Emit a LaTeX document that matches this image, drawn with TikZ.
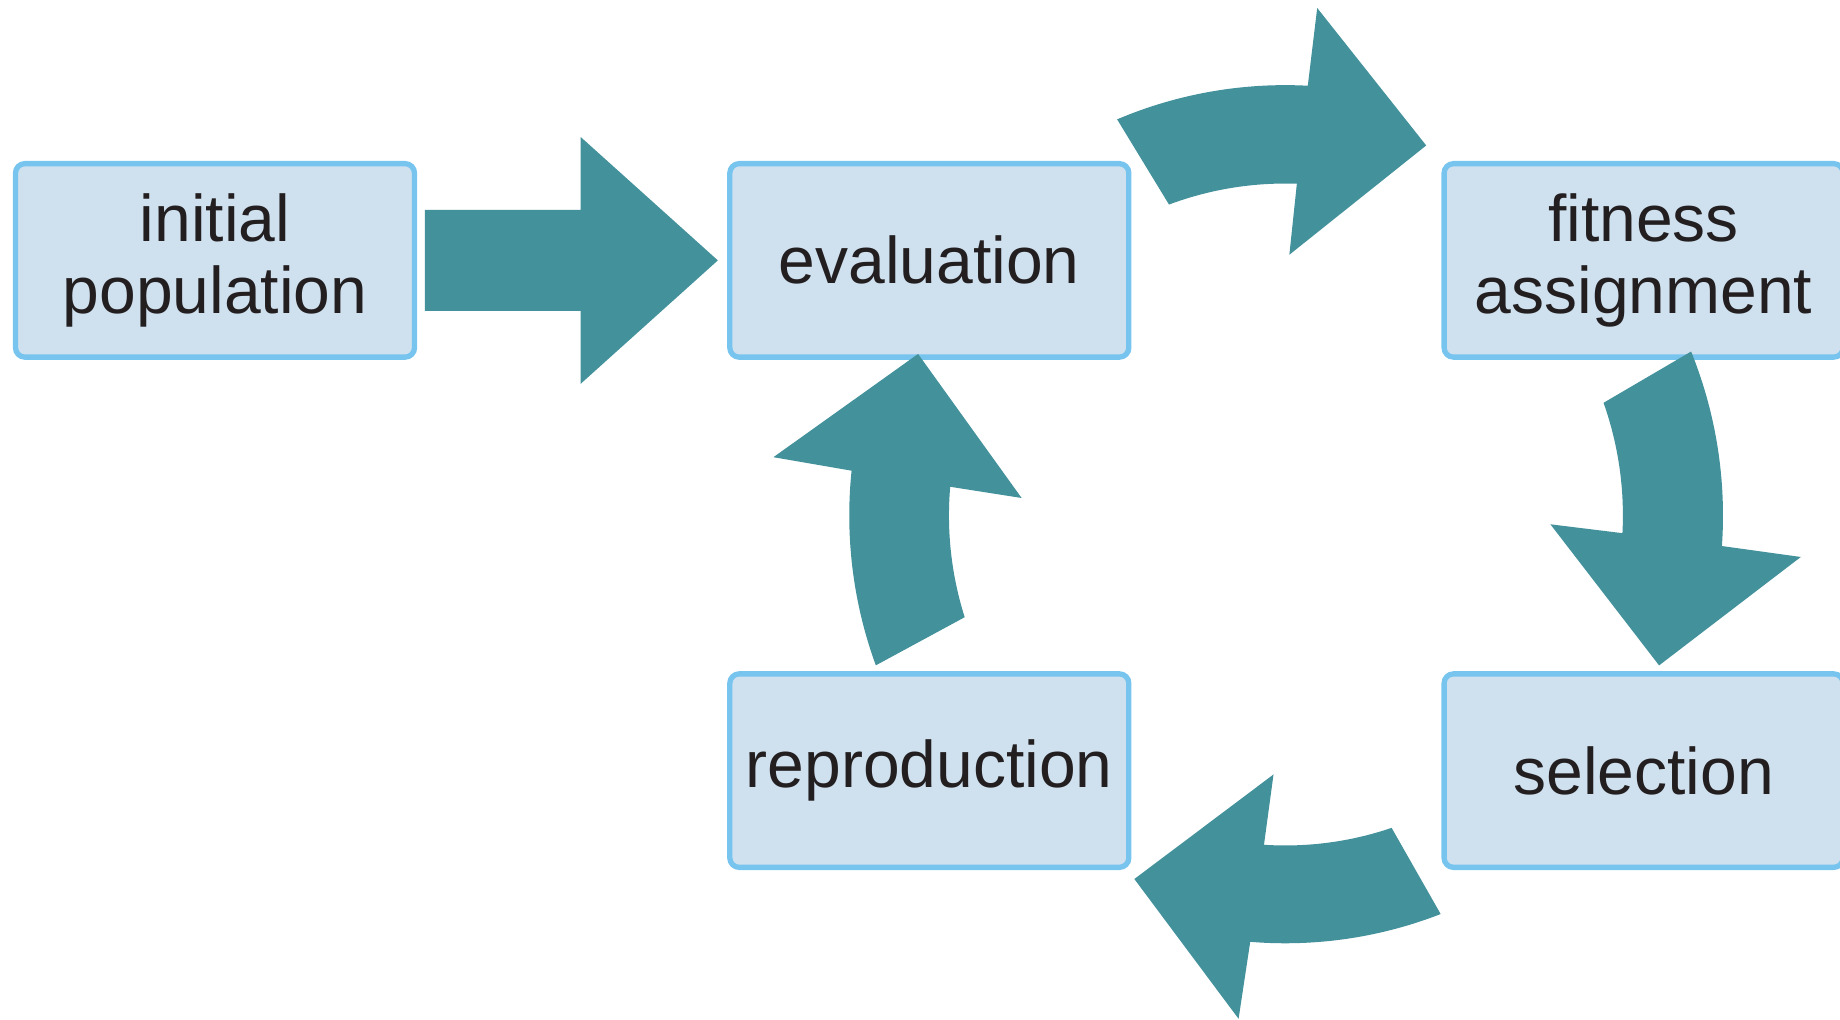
\documentclass[tikz,border=0pt]{standalone}
\usepackage{fontspec}
\setmainfont{Liberation Sans}
\usetikzlibrary{positioning,calc}
\definecolor{boxfill}{HTML}{CFE0EF}
\definecolor{boxline}{HTML}{77C4EE}
\definecolor{arrowfill}{HTML}{43919B}
\definecolor{textcol}{HTML}{231F20}

\begin{document}
\begin{tikzpicture}[
			box/.style={draw=boxline,fill=boxfill,line width=2.65pt,rounded corners=4.7pt,
				minimum width=199.5pt,minimum height=96.75pt,inner sep=0pt,align=center,
				text=textcol,font=\fontsize{33}{36}\selectfont},
			bigarrow/.style={fill=arrowfill}]
			\useasboundingbox (0,0) rectangle (920pt,509.5pt);
			\node (init) [box] at (107.5pt,379.3pt) {initial\\population};
			\node (eval) [box,right=155pt of init] {evaluation};
			\node (fit) [box,right=155pt of eval] {fitness\\assignment};
			\node (sel) [box,below=155.7pt of fit] {selection};
			\node (repr) [box,below=155.7pt of eval] {reproduction};
			\coordinate (cyc) at ($(eval)!.5!(sel)+(-0.6pt,0)$);
			\fill[bigarrow] ([shift={(3.85pt,25.25pt)}]init.east)
				-- ([shift={(81.7pt,25.25pt)}]init.east)
				-- ([shift={(81.7pt,61.75pt)}]init.east)
				-- ([xshift=-4.65pt]eval.west)
				-- ([shift={(81.7pt,-61.75pt)}]init.east)
				-- ([shift={(81.7pt,-25.25pt)}]init.east)
				-- ([shift={(3.85pt,-25.25pt)}]init.east) -- cycle;
			\foreach \a/\s in {1.4/0.994,-89.6/1.011,-180.3/0.988,-271.5/1.007}
				\fill[bigarrow,shift={(cyc)},rotate=\a,scale=\s] (111.6:216.5pt)
					arc[start angle=111.6,end angle=85.6,radius=216.5pt]
					-- (85:255.8pt) -- (67.75:199.2pt) -- (87.7:131.2pt) -- (86.6:167pt)
					arc[start angle=86.6,end angle=109.1,radius=167pt] -- cycle;
		\end{tikzpicture}
\end{document}
